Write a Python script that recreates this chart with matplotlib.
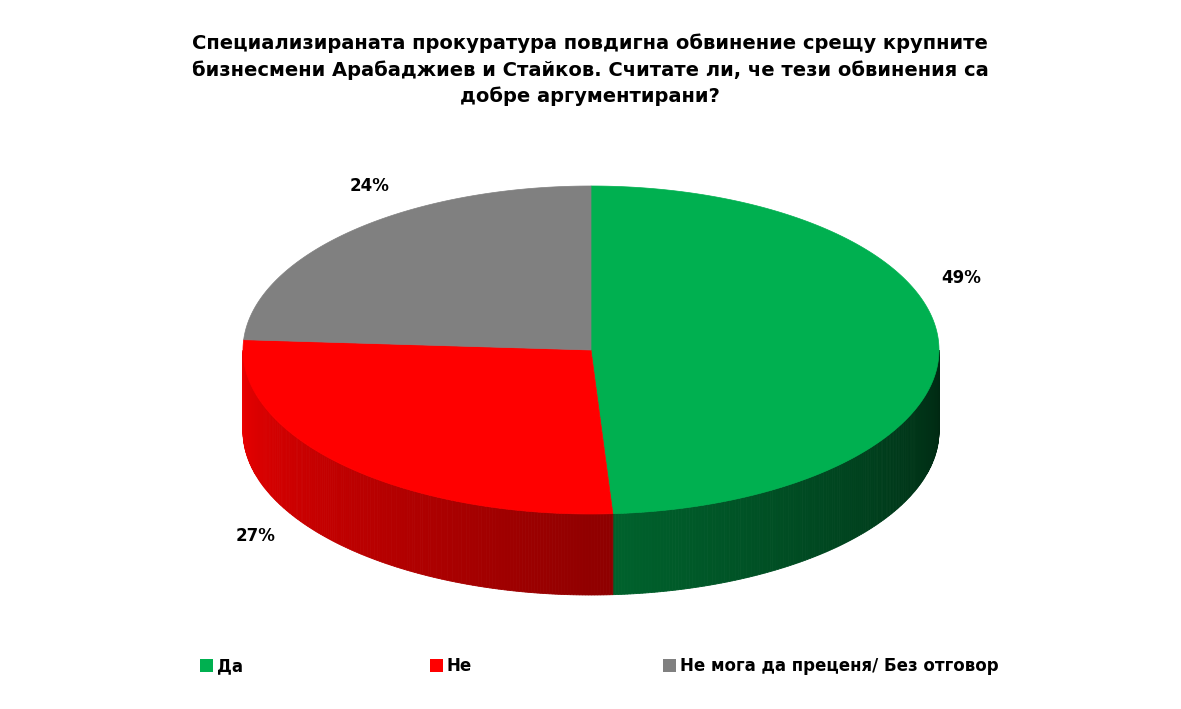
import numpy as np
import matplotlib
matplotlib.use("Agg")
import matplotlib.pyplot as plt
from matplotlib.patches import Polygon, Rectangle

categories = ["Да", "Не", "Не мога да преценя/ Без отговор"]
values = [49, 27, 24]
colors = [(0/255, 176/255, 80/255), (1.0, 0.0, 0.0), (128/255, 128/255, 128/255)]
title = ("Специализираната прокуратура повдигна обвинение срещу крупните\n"
         "бизнесмени Арабаджиев и Стайков. Считате ли, че тези обвинения са\n"
         "добре аргументирани?")

W, H = 1181, 709
fig = plt.figure(figsize=(W/100, H/100), dpi=100)
ax = fig.add_axes([0, 0, 1, 1])
ax.set_xlim(0, W); ax.set_ylim(H, 0); ax.axis("off")
plt.rcParams['font.family'] = ['DejaVu Sans']

cx, cy, rx, ry, depth = 591, 350, 348, 164, 81
def pt(t, dy=0):
    return (cx + rx*np.cos(np.radians(t)), cy - ry*np.sin(np.radians(t)) + dy)

total = sum(values)
start = 90.0
angles = []
for v in values:
    end = start - v/total*360
    angles.append((start, end))
    start = end

# side walls (front half: sin<0 -> t in (180,360) mod 360)
for (a0, a1), col in zip(angles, colors):
    ts = np.arange(a0, a1, -0.5)
    for t0 in ts:
        t1 = max(t0-0.5, a1)
        tm = ((t0+t1)/2) % 360
        if not (180 <= tm <= 360):
            continue
        f = 0.92 - 0.7*(tm-180)/180
        c = tuple(min(1, ch*f) for ch in col)
        poly = [pt(t0), pt(t1), pt(t1, depth), pt(t0, depth)]
        ax.add_patch(Polygon(poly, closed=True, fc=c, ec=c, lw=0.6))

# top wedges
for (a0, a1), col in zip(angles, colors):
    ts = np.linspace(a0, a1, 200)
    poly = [(cx, cy)] + [pt(t) for t in ts]
    ax.add_patch(Polygon(poly, closed=True, fc=col, ec=col, lw=0.5))

# labels
label_pos = [(961, 278), (256, 536), (370, 186)]
for v, (x, y) in zip(values, label_pos):
    ax.text(x, y, f"{v}%", ha="center", va="center", fontsize=12, fontweight="bold")

ax.text(590, 70, title, ha="center", va="center", fontsize=14, fontweight="bold",
        linespacing=1.45)

# legend
leg_x = [200, 430, 663]
for x, cat, col in zip(leg_x, categories, colors):
    ax.add_patch(Rectangle((x, 659), 13, 13, fc=col, ec="none"))
    ax.text(x+17, 666, cat, ha="left", va="center", fontsize=12, fontweight="bold")

fig.savefig("out.png", dpi=100)
